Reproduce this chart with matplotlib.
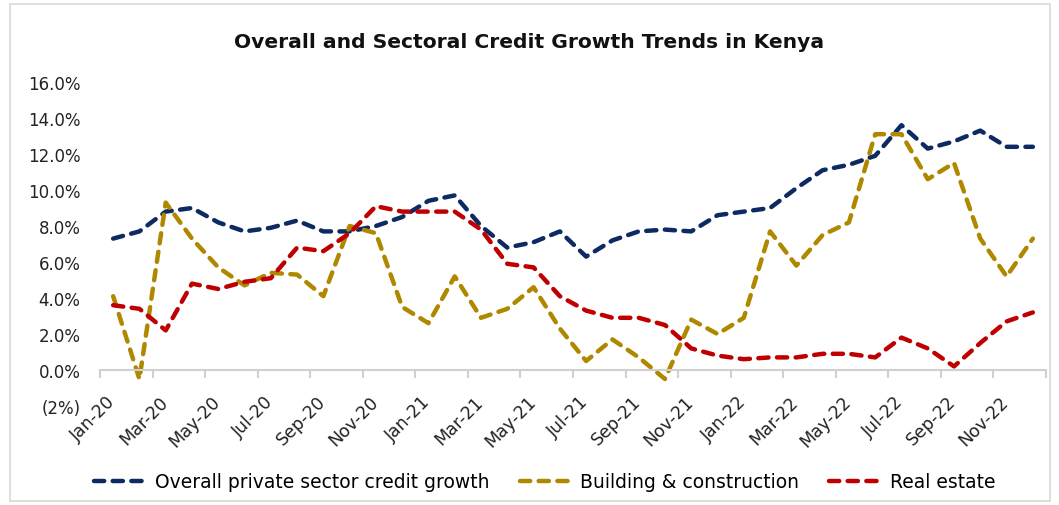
import matplotlib.pyplot as plt
from matplotlib.patches import Rectangle
from matplotlib.transforms import ScaledTranslation
import numpy as np

plt.rcParams['font.family'] = ['DejaVu Sans']

# monthly data Jan-20 .. Dec-22 (percent)
months = ['Jan-20', 'Feb-20', 'Mar-20', 'Apr-20', 'May-20', 'Jun-20',
          'Jul-20', 'Aug-20', 'Sep-20', 'Oct-20', 'Nov-20', 'Dec-20',
          'Jan-21', 'Feb-21', 'Mar-21', 'Apr-21', 'May-21', 'Jun-21',
          'Jul-21', 'Aug-21', 'Sep-21', 'Oct-21', 'Nov-21', 'Dec-21',
          'Jan-22', 'Feb-22', 'Mar-22', 'Apr-22', 'May-22', 'Jun-22',
          'Jul-22', 'Aug-22', 'Sep-22', 'Oct-22', 'Nov-22', 'Dec-22']

overall = [7.3, 7.7, 8.8, 9.0, 8.2, 7.7, 7.9, 8.3, 7.7, 7.7, 8.0, 8.5,
           9.4, 9.7, 8.0, 6.8, 7.1, 7.7, 6.3, 7.2, 7.7, 7.8, 7.7, 8.6,
           8.8, 9.0, 10.1, 11.1, 11.4, 11.9, 13.6, 12.3, 12.7, 13.3, 12.4, 12.4]

building = [4.1, -0.5, 9.3, 7.3, 5.7, 4.7, 5.4, 5.3, 4.1, 8.0, 7.6, 3.5,
            2.6, 5.2, 2.9, 3.4, 4.6, 2.3, 0.5, 1.7, 0.7, -0.5, 2.8, 2.0,
            2.9, 7.7, 5.8, 7.5, 8.2, 13.1, 13.1, 10.6, 11.5, 7.3, 5.2, 7.3]

real_estate = [3.6, 3.4, 2.2, 4.8, 4.5, 4.9, 5.1, 6.8, 6.6, 7.6, 9.1, 8.8,
               8.8, 8.8, 7.8, 5.9, 5.7, 4.1, 3.3, 2.9, 2.9, 2.5, 1.2, 0.8,
               0.6, 0.7, 0.7, 0.9, 0.9, 0.7, 1.8, 1.2, 0.2, 1.5, 2.7, 3.2]

series_names = ['Overall private sector credit growth',
                'Building & construction', 'Real estate']
series_colors = ['#0d2a63', '#b08800', '#c00000']

y_ticks = [-2, 0, 2, 4, 6, 8, 10, 12, 14, 16]
y_labels = ['(2%)', '0.0%', '2.0%', '4.0%', '6.0%', '8.0%',
            '10.0%', '12.0%', '14.0%', '16.0%']

fig = plt.figure(figsize=(10.59, 5.06), dpi=100)
ax = fig.add_axes([100 / 1059, 1 - 407 / 506, 946 / 1059, 324 / 506])

x = np.arange(len(months))
for vals, name, col in zip([overall, building, real_estate], series_names, series_colors):
    ax.plot(x, vals, color=col, lw=3.2, dashes=(2.3, 1.9),
            dash_capstyle='round', label=name)

ax.set_xlim(-0.5, len(months) - 0.5)
ax.set_ylim(-2, 16)
ax.set_yticks(y_ticks)
ax.set_yticklabels(y_labels, fontsize=12, color='#222222')
ax.tick_params(axis='y', length=0, pad=14)

# category axis crosses at zero
for s in ['top', 'right', 'left']:
    ax.spines[s].set_visible(False)
ax.spines['bottom'].set_position(('data', 0))
ax.spines['bottom'].set_color('#d0d0d0')
ax.spines['bottom'].set_linewidth(1.5)

ax.set_xticks(x[::2])
ax.set_xticklabels(months[::2], rotation=45, ha='right', va='top',
                   rotation_mode='anchor', fontsize=12.5, color='#222222')
ax.tick_params(axis='x', which='major', length=0, pad=16)
ax.set_xticks(np.arange(-0.5, len(months), 2), minor=True)
ax.tick_params(axis='x', which='minor', length=6, width=1.5, color='#d0d0d0')
shift = ScaledTranslation(-7 / 100, 0, fig.dpi_scale_trans)
for lab in ax.get_xticklabels():
    lab.set_transform(lab.get_transform() + shift)

fig.text(0.5, 1 - 42 / 506, 'Overall and Sectoral Credit Growth Trends in Kenya',
         ha='center', va='center', fontsize=14.6, fontweight='bold', color='#111111')

fig.legend(*ax.get_legend_handles_labels(), loc='center',
           bbox_to_anchor=(545 / 1059, 1 - 483 / 506),
           ncol=3, frameon=False, fontsize=13.5,
           handlelength=2.9, columnspacing=1.6, handletextpad=0.35)

fig.patches.append(Rectangle((10 / 1059, 4 / 506), 1040 / 1059, 497 / 506,
                             transform=fig.transFigure, fill=False,
                             edgecolor='#d9d9d9', lw=1.2))

fig.savefig('out.png', dpi=100)
